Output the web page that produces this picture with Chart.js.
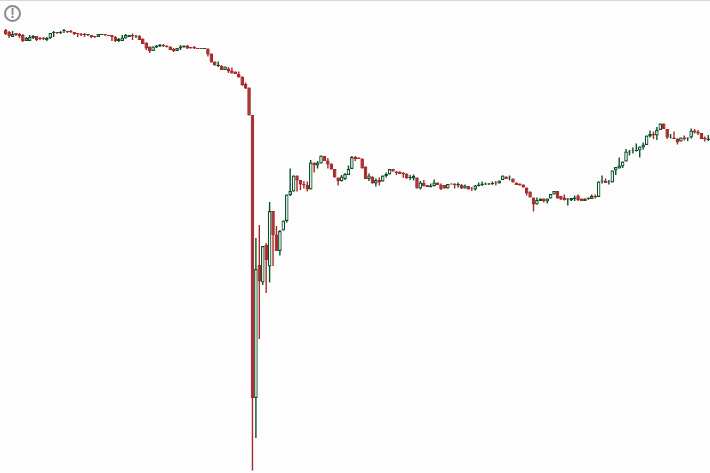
<!DOCTYPE html>
<html>
<head>
<meta charset="utf-8">
<script src="https://cdn.jsdelivr.net/npm/chart.js@4"></script>
<style>
    html, body { margin: 0; padding: 0; background: #fdfdfd; overflow: hidden; }
    #wrap { position: relative; width: 710px; height: 473px; border-top: 1px solid #d8d8d8; box-sizing: border-box; }
    #myChart { position: absolute; left: 0; top: -1px; }
    #alert {
        position: absolute; left: 4px; top: 4px; width: 13px; height: 13px; border: 2px solid #8c8c8c; border-radius: 50%;
        color: #8c8c8c; font: bold 14px/13px "Liberation Sans", sans-serif; text-align: center;
    }
</style>
</head>
<body>
<div id="wrap">
    <canvas id="myChart" width="710" height="473"></canvas>
    <div id="alert">!</div>
</div>
<script>
// values, price units are arbitrary (the source has no axis)
const opens = [
    443,441,436,440,439,438,432,432,435,437,
    435,435,433,435,440,441,440,442,442,442,
    441,440,439,439,438,438,437,436,438,439,
    438,438,436,432,432,434.5,436,438,436.5,437.5,
    434.5,430.5,426.5,422,425.5,426.5,428,427.5,426.5,424,
    422,424.5,425.5,427.5,426,426,425,425,424,424.5,
    419.5,411.5,407,407.5,403,404.5,402.5,401.5,399,396.5,
    389,385.5,358,75,208,190.5,228,206.5,262,238.5,
    222,242.5,252,278,281.5,297.5,293,289,288,283.5,
    310.5,307.5,309.5,317,312.5,309.5,304,295.5,292,294,
    298,304,316,315.5,314.5,306.5,294,296.5,289.5,293,
    291.5,297,298.5,304,301.5,301.5,300,299.5,295,294.5,
    295.5,284.5,290,288,286,287,290.5,288.5,288,284.5,
    289.5,289.5,287.5,288,284.5,287,284.5,283.5,287,288,
    288.5,288.5,289,290.5,289.5,293,296.5,295,294.5,290.5,
    289.5,288.5,285.5,281.5,275.5,268.5,272,274.5,271.5,274.5,
    278.5,282,277,275.5,273.5,272.5,274,277.5,274.5,272,
    275.5,274,277,276,291.5,292.5,290.5,290.5,302.5,304.5,
    306.5,311.5,320.5,322,322,322.5,325.5,328,336.5,339,
    337.5,343,349.5,344,335,335.5,334.5,331.5,335.5,334.5,
    335.5,342.5,341.5,340,335.5,333
];
const closes = [
    439,437,439,438,437,432,435,436,437,433,
    434,434,435,440,441,440,441,443,441,441,
    439,439,438,438,439,436,436,439,439,438,
    437,436,432,434,435.5,438,438,436.5,437.5,433,
    429,424.5,422,426.5,427.5,428.5,427,426,423,422,
    425,426.5,427.5,424.5,424.5,424.5,424,424,425,418.5,
    410.5,407.5,408,403,406.5,401.5,399.5,399,395.5,388,
    384.5,357.5,75,204,191.5,227,213,262,238,222,
    242,252.5,278.5,282,297.5,292.5,288.5,288,283.5,310.5,
    307.5,310.5,317.5,312,308.5,303.5,295.5,292,296.5,299,
    304,316,314,314,304.5,294,297.5,289.5,293,290.5,
    297.5,299,304,301.5,300,299,298.5,294.5,296,297,
    284.5,290.5,287,286,287.5,290.5,288,284,284.5,289,
    288.5,288,289,284.5,287.5,283.5,284,287.5,288.5,289.5,
    289.5,289.5,290,289.5,292.5,297.5,294,295.5,290.5,288,
    287.5,285.5,279.5,275.5,268.5,273,274.5,272,274.5,279,
    282,274.5,273.5,273,274.5,275,275.5,273,272,274.5,
    274,277,275.5,291.5,292.5,290,291.5,302.5,306,307.5,
    311.5,321.5,321.5,322.5,323,326.5,328.5,337.5,339,337.5,
    343,349.5,344,335.5,335.5,334,330.5,335.5,334,335.5,
    342.5,340.5,339.5,334,333.5,334.5
];
const highs = [
    444,442,442,440,440,439,436,438,438,437,
    436,436,436,440,442,441,442,444,442,443,
    441,440,440,440,439,438,437,439,439,439,
    438,438,437,435,438,439,438,439.5,438,437.5,
    434.5,430.5,426.5,426.5,428,429,429,427.5,426.5,425,
    425,428,427.5,428,426,427,425,425,425,424.5,
    419.5,411.5,411.5,407.5,406.5,406,405.5,401.5,401.5,396.5,
    390.5,385.5,358,235,248,227,230,271,262,247,
    243,252.5,278.5,304.5,297.5,297.5,293,292,291.5,313,
    310.5,312,317.5,317,315,309.5,304,295.5,298,300,
    307.5,317,317,315.5,314.5,306.5,299.5,296.5,294.5,295.5,
    297.5,300.5,304,304,302,301.5,301,299.5,298,298.5,
    295.5,292,293,288,289.5,293.5,290.5,289.5,288,289,
    289.5,289.5,290.5,289,288.5,287,286,288,290.5,291.5,
    290.5,290,291.5,292,292.5,297.5,296.5,297.5,294.5,290.5,
    289.5,288.5,285.5,281.5,275.5,275.5,274.5,274.5,274.5,279,
    282,282,277,278.5,275,275,277.5,278.5,274.5,274.5,
    275.5,278.5,278.5,291.5,297.5,294.5,293,302.5,306,315.5,
    311.5,324,323,325.5,329.5,326.5,330.5,337.5,342.5,341.5,
    346,349.5,349.5,344,339,341.5,334.5,335.5,337.5,335.5,
    344.5,344,343,340,336.5,338
];
const lows = [
    438,435,436,437,435,431,432,432,434,432,
    433,433,432,434,436,439,439,440,440,440,
    438,436,437,436,437,435,435,436,438,437,
    437,432,431,431,432,434.5,436,433,435,433,
    429,423,420,422,425,426,426,425.5,423,421,
    422,423,425.5,424,424.5,424,424,424,424,416.5,
    410.5,407.5,406,403,403,400,399.5,399,395.5,387,
    384,357.5,2.5,35,134,188,180,190.5,207,222,
    217.5,242.5,250.5,277,281.5,281.5,283,284.5,281.5,283.5,
    300.5,304.5,309.5,312,304.5,303.5,295.5,287.5,291.5,293,
    298,304,312,314,304.5,294,292,289.5,286.5,287.5,
    291.5,295.5,298.5,301.5,298,299,295,294.5,293,292.5,
    284.5,283.5,286.5,286,285.5,286.5,288,283,284.5,284.5,
    288.5,284.5,285.5,284,284.5,283.5,282,282.5,286.5,287,
    288,288,288,287.5,289.5,293,294,292.5,290.5,288,
    287.5,285.5,277.5,275.5,261.5,268.5,272,270.5,269.5,274.5,
    278.5,274.5,273,272.5,267.5,272,272,272,272,272,
    273,274,274.5,276,289.5,290,288.5,290.5,298,304.5,
    305,311.5,317.5,319.5,321.5,315.5,323.5,328,335.5,334,
    333,343,344,334,334.5,334,328.5,331.5,332.5,332,
    334.5,339.5,338,334,331.5,332
];
const labels = opens.map((v, i) => i + 1);

const upColor = '#0b4f28';
const downColor = '#a52a2a';
const isUp = ctx => closes[ctx.dataIndex] >= opens[ctx.dataIndex];

const ctx = document.getElementById('myChart');
const myChart = new Chart(ctx, {
    type: 'bar',
    data: {
        labels: labels,
        datasets: [{
            // candle body, first dataset paints on top of the wick
            data: labels.map((v, i) => [opens[i], closes[i]]),
            barThickness: 3.6,
            grouped: false,
            backgroundColor: c => isUp(c) ? '#fdfdfd' : downColor,
            borderColor: c => isUp(c) ? upColor : downColor,
            borderWidth: 1.2,
            borderSkipped: false,
            inflateAmount: 0
        }, {
            // wick
            data: labels.map((v, i) => [lows[i], highs[i]]),
            barThickness: 1.4,
            grouped: false,
            backgroundColor: c => isUp(c) ? upColor : downColor,
            borderWidth: 0,
            inflateAmount: 0
        }]
    },
    options: {
        responsive: false,
        animation: false,
        layout: { padding: { left: 4 } },
        plugins: { legend: { display: false }, tooltip: { enabled: false } },
        scales: {
            x: { display: false, offset: true },
            y: { display: false, min: 0, max: 473 }
        }
    }
});
</script>
</body>
</html>
